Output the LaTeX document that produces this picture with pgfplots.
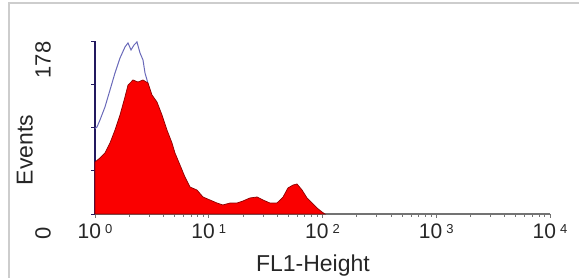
\documentclass[border=0pt]{standalone}
\usepackage{pgfplots}
\pgfplotsset{compat=1.18}
\usepackage{fontspec}
\setmainfont{Liberation Sans}
\definecolor{frame}{RGB}{205,205,205}
\definecolor{navy}{RGB}{35,25,95}
\definecolor{ctrl}{RGB}{105,105,185}
\definecolor{redfill}{RGB}{250,0,0}
\definecolor{rededge}{RGB}{140,0,0}
\newcommand{\dec}[1]{10\hspace{4pt}\raisebox{5pt}{\fontsize{13}{13}\selectfont #1}}
\begin{document}
\begin{tikzpicture}
\path[use as bounding box] (0pt,0pt) rectangle (579pt,278pt);
\draw[frame, line width=2.2pt] (9pt,0pt) -- (9pt,275pt) -- (579pt,275pt);
\begin{axis}[
  at={(95pt,64pt)}, anchor=south west,
  scale only axis, width=455pt, height=173pt,
  xmode=log, xmin=1, xmax=10000, ymin=0, ymax=178,
  axis lines=left,
  x axis line style={-, draw=black!55, line width=1.2pt},
  y axis line style={-, draw=navy, line width=2.2pt},
  xtick={1,10,100,1000,10000},
  xticklabels={\dec{0},\dec{1},\dec{2},\dec{3},\dec{4}},
  minor xtick={2,3,4,5,6,7,8,9,20,30,40,50,60,70,80,90,200,300,400,500,600,700,800,900,2000,3000,4000,5000,6000,7000,8000,9000},
  ytick={0,44.5,89,133.5,178},
  yticklabels={0,,,,178},
  tick align=outside,
  major tick length=4pt, minor tick length=3pt,
  x tick style={black!55, line width=0.8pt},
  y tick style={navy, line width=0.8pt},
  xticklabel style={font=\fontsize{21}{21}\selectfont, color=black!85, anchor=north, inner sep=0pt, yshift=-6pt},
  yticklabel style={font=\fontsize{22}{22}\selectfont, color=black!85, inner sep=0pt, yshift=-19pt, xshift=-40pt, rotate=90, anchor=south},
  xlabel={FL1-Height},
  ylabel={Events},
  every axis x label/.style={at={(axis description cs:0.479,0)}, anchor=north, inner sep=0pt, yshift=-41pt, font=\fontsize{23}{23}\selectfont, color=black!85},
  every axis y label/.style={at={(axis description cs:0,0.37)}, xshift=-62pt, rotate=90, anchor=south, inner sep=0pt, font=\fontsize{23}{23}\selectfont, color=black!85},
  clip=false,
]
\addplot[ctrl, line width=1pt] coordinates {
(1,88) (1.041,89.5) (1.106,96.7) (1.224,110.1) (1.355,127.6) (1.499,145.1) (1.659,160.5) (1.835,171.8) (1.950,176.0) (2.073,168.8) (2.203,173.9) (2.339,177.0) (2.487,165.7) (2.642,158.5) (2.752,145.1) (2.866,137.9) (3.171,117.3) (3.73,91.6) (4.56,65.9) (5.59,40) (6.84,19.5) (8.37,9.3) (11.35,4.1) (18.8,1) (30,0)
};
\addplot[fill=redfill, draw=rededge, line width=0.7pt] coordinates {
(1,53.5) (1.106,57.6) (1.224,62.8) (1.355,73.1) (1.499,86.4) (1.659,101.9) (1.835,120.4) (1.950,132.7) (2.159,137.9) (2.388,135.8) (2.642,137.9) (2.924,134.8) (3.171,122.5) (3.509,115.2) (3.882,101.9) (4.295,86.4) (4.752,73.1) (5.05,62.8) (5.59,50.4) (6.18,38.1) (6.84,27.8) (7.88,24.7) (8.90,17.5) (10.26,14.4) (11.83,11.3) (13.3,9.3) (15.4,11.3) (17.7,11.3) (20.0,13.4) (23.0,16.5) (26.6,17.5) (30.0,14.4) (34.5,11.3) (39.8,11.3) (45.0,17.5) (49.7,26.8) (55.1,29.8) (59.7,30.9) (66.1,24.7) (73.1,16.5) (80.9,11.3) (89.5,6.2) (99.0,2.1) (105,0)
} \closedcycle;
\end{axis}
\end{tikzpicture}
\end{document}
